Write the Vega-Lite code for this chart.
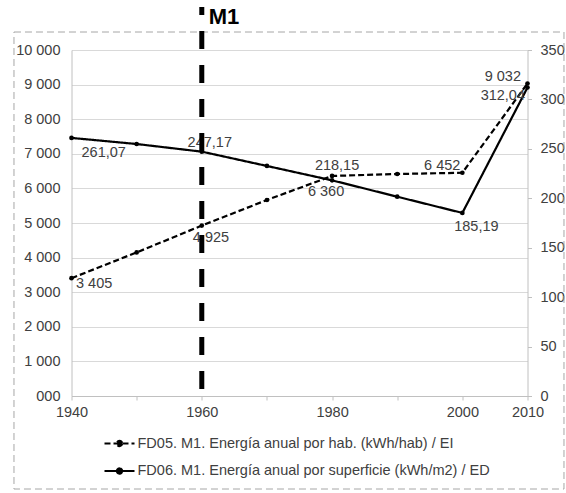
{
  "$schema": "https://vega.github.io/schema/vega-lite/v6.json",
  "width": 456,
  "height": 346,
  "autosize": {"type": "none"},
  "padding": {"left": 71.5, "top": 50, "right": 38.5, "bottom": 97},
  "background": "white",
  "config": {
    "view": {"stroke": null},
    "font": "Liberation Sans",
    "text": {"font": "Liberation Sans", "fontSize": 14.5, "color": "#404040", "baseline": "middle"},
    "axis": {"labelFont": "Liberation Sans", "labelFontSize": 14.5, "labelColor": "#404040", "title": null, "domainColor": "#c0c0c0", "tickColor": "#c0c0c0", "gridColor": "#d9d9d9", "labelFlush": false, "labelOverlap": false}
  },
  "datasets": {
    "s": [
      {"year": 1940, "series": "FD05. M1. Energía anual por hab. (kWh/hab) / EI", "value": 3405, "label": "3 405"},
      {"year": 1950, "series": "FD05. M1. Energía anual por hab. (kWh/hab) / EI", "value": 4150, "label": ""},
      {"year": 1960, "series": "FD05. M1. Energía anual por hab. (kWh/hab) / EI", "value": 4925, "label": "4 925"},
      {"year": 1970, "series": "FD05. M1. Energía anual por hab. (kWh/hab) / EI", "value": 5665, "label": ""},
      {"year": 1980, "series": "FD05. M1. Energía anual por hab. (kWh/hab) / EI", "value": 6360, "label": "6 360"},
      {"year": 1990, "series": "FD05. M1. Energía anual por hab. (kWh/hab) / EI", "value": 6416, "label": ""},
      {"year": 2000, "series": "FD05. M1. Energía anual por hab. (kWh/hab) / EI", "value": 6452, "label": "6 452"},
      {"year": 2010, "series": "FD05. M1. Energía anual por hab. (kWh/hab) / EI", "value": 9032, "label": "9 032"},
      {"year": 1940, "series": "FD06. M1. Energía anual por superficie (kWh/m2) / ED", "value": 261.07, "label": "261,07"},
      {"year": 1950, "series": "FD06. M1. Energía anual por superficie (kWh/m2) / ED", "value": 254.9, "label": ""},
      {"year": 1960, "series": "FD06. M1. Energía anual por superficie (kWh/m2) / ED", "value": 247.17, "label": "247,17"},
      {"year": 1970, "series": "FD06. M1. Energía anual por superficie (kWh/m2) / ED", "value": 232.7, "label": ""},
      {"year": 1980, "series": "FD06. M1. Energía anual por superficie (kWh/m2) / ED", "value": 218.15, "label": "218,15"},
      {"year": 1990, "series": "FD06. M1. Energía anual por superficie (kWh/m2) / ED", "value": 201.6, "label": ""},
      {"year": 2000, "series": "FD06. M1. Energía anual por superficie (kWh/m2) / ED", "value": 185.19, "label": "185,19"},
      {"year": 2010, "series": "FD06. M1. Energía anual por superficie (kWh/m2) / ED", "value": 312.04, "label": "312,04"}
    ]
  },
  "data": {"name": "s"},
  "resolve": {"scale": {"y": "independent"}},
  "layer": [
    {
      "data": {"values": [{"frame": "border"}]},
      "mark": {"type": "rect", "fillOpacity": 0, "stroke": "#a6a6a6", "strokeWidth": 1, "strokeDash": [7, 4], "clip": false},
      "encoding": {
        "x": {"datum": 1931.17, "type": "quantitative", "scale": {"domain": [1940, 2010], "nice": false, "zero": false},
          "axis": {"values": [1940, 1950, 1960, 1970, 1980, 1990, 2000, 2010], "labelExpr": "datum.value % 20 == 0 || datum.value == 2010 ? datum.value + '' : ''", "grid": false, "ticks": true, "tickSize": 4, "labelPadding": 5, "domain": true}},
        "x2": {"datum": 2015.6},
        "y": {"datum": 10520, "type": "quantitative", "scale": {"domain": [0, 10000], "nice": false}, "axis": null},
        "y2": {"datum": -2688}
      }
    },
    {
      "transform": [{"filter": "datum.series === 'FD05. M1. Energía anual por hab. (kWh/hab) / EI'"}],
      "mark": {"type": "line", "color": "black", "strokeWidth": 2.2},
      "encoding": {
        "x": {"field": "year", "type": "quantitative", "scale": {"domain": [1940, 2010], "nice": false, "zero": false},
          "axis": {"values": [1940, 1950, 1960, 1970, 1980, 1990, 2000, 2010], "labelExpr": "datum.value % 20 == 0 || datum.value == 2010 ? datum.value + '' : ''", "grid": false, "ticks": true, "tickSize": 4, "labelPadding": 5, "domain": true}},
        "y": {"field": "value", "type": "quantitative", "scale": {"domain": [0, 10000], "nice": false},
          "axis": {"orient": "left", "values": [0, 1000, 2000, 3000, 4000, 5000, 6000, 7000, 8000, 9000, 10000], "labelExpr": "datum.value == 0 ? '000' : replace(format(datum.value, ','), ',', ' ')", "grid": true, "ticks": false, "labelPadding": 11.5, "domain": true}},
        "strokeDash": {"field": "series", "type": "nominal", "scale": {"range": [[6, 3], [1, 0]]},
          "legend": {"orient": "none", "legendX": 31.5, "legendY": 377, "direction": "vertical", "title": null, "symbolType": "M-1,0H1M0.17,0A0.17,0.17,0,1,1,-0.17,0A0.17,0.17,0,1,1,0.17,0Z", "symbolSize": 900, "symbolStrokeWidth": 2.2, "symbolStrokeColor": "black", "symbolFillColor": "black", "labelFont": "Liberation Sans", "labelFontSize": 14.5, "labelColor": "#404040", "labelOffset": 1.5, "rowPadding": 3.5, "labelLimit": 500}}
      }
    },
    {
      "transform": [{"filter": "datum.series === 'FD05. M1. Energía anual por hab. (kWh/hab) / EI'"}],
      "mark": {"type": "point", "filled": true, "color": "black", "size": 22, "opacity": 1},
      "encoding": {
        "x": {"field": "year", "type": "quantitative", "scale": {"domain": [1940, 2010], "nice": false, "zero": false},
          "axis": {"values": [1940, 1950, 1960, 1970, 1980, 1990, 2000, 2010], "labelExpr": "datum.value % 20 == 0 || datum.value == 2010 ? datum.value + '' : ''", "grid": false, "ticks": true, "tickSize": 4, "labelPadding": 5, "domain": true}},
        "y": {"field": "value", "type": "quantitative", "scale": {"domain": [0, 10000], "nice": false}, "axis": null}
      }
    },
    {
      "transform": [{"filter": "datum.series === 'FD05. M1. Energía anual por hab. (kWh/hab) / EI' && datum.year == 1940"}],
      "mark": {"type": "text", "align": "left", "dx": 4.5, "dy": 6},
      "encoding": {
        "x": {"field": "year", "type": "quantitative", "scale": {"domain": [1940, 2010], "nice": false, "zero": false},
          "axis": {"values": [1940, 1950, 1960, 1970, 1980, 1990, 2000, 2010], "labelExpr": "datum.value % 20 == 0 || datum.value == 2010 ? datum.value + '' : ''", "grid": false, "ticks": true, "tickSize": 4, "labelPadding": 5, "domain": true}},
        "y": {"field": "value", "type": "quantitative", "scale": {"domain": [0, 10000], "nice": false}, "axis": null},
        "text": {"field": "label"}
      }
    },
    {
      "transform": [{"filter": "datum.series === 'FD05. M1. Energía anual por hab. (kWh/hab) / EI' && datum.year == 1960"}],
      "mark": {"type": "text", "align": "left", "dx": -9, "dy": 12},
      "encoding": {
        "x": {"field": "year", "type": "quantitative", "scale": {"domain": [1940, 2010], "nice": false, "zero": false},
          "axis": {"values": [1940, 1950, 1960, 1970, 1980, 1990, 2000, 2010], "labelExpr": "datum.value % 20 == 0 || datum.value == 2010 ? datum.value + '' : ''", "grid": false, "ticks": true, "tickSize": 4, "labelPadding": 5, "domain": true}},
        "y": {"field": "value", "type": "quantitative", "scale": {"domain": [0, 10000], "nice": false}, "axis": null},
        "text": {"field": "label"}
      }
    },
    {
      "transform": [{"filter": "datum.series === 'FD05. M1. Energía anual por hab. (kWh/hab) / EI' && datum.year == 1980"}],
      "mark": {"type": "text", "align": "center", "dx": -6, "dy": 16},
      "encoding": {
        "x": {"field": "year", "type": "quantitative", "scale": {"domain": [1940, 2010], "nice": false, "zero": false},
          "axis": {"values": [1940, 1950, 1960, 1970, 1980, 1990, 2000, 2010], "labelExpr": "datum.value % 20 == 0 || datum.value == 2010 ? datum.value + '' : ''", "grid": false, "ticks": true, "tickSize": 4, "labelPadding": 5, "domain": true}},
        "y": {"field": "value", "type": "quantitative", "scale": {"domain": [0, 10000], "nice": false}, "axis": null},
        "text": {"field": "label"}
      }
    },
    {
      "transform": [{"filter": "datum.series === 'FD05. M1. Energía anual por hab. (kWh/hab) / EI' && datum.year == 2000"}],
      "mark": {"type": "text", "align": "right", "dx": -2, "dy": -7},
      "encoding": {
        "x": {"field": "year", "type": "quantitative", "scale": {"domain": [1940, 2010], "nice": false, "zero": false},
          "axis": {"values": [1940, 1950, 1960, 1970, 1980, 1990, 2000, 2010], "labelExpr": "datum.value % 20 == 0 || datum.value == 2010 ? datum.value + '' : ''", "grid": false, "ticks": true, "tickSize": 4, "labelPadding": 5, "domain": true}},
        "y": {"field": "value", "type": "quantitative", "scale": {"domain": [0, 10000], "nice": false}, "axis": null},
        "text": {"field": "label"}
      }
    },
    {
      "transform": [{"filter": "datum.series === 'FD05. M1. Energía anual por hab. (kWh/hab) / EI' && datum.year == 2010"}],
      "mark": {"type": "text", "align": "right", "dx": -6.5, "dy": -6},
      "encoding": {
        "x": {"field": "year", "type": "quantitative", "scale": {"domain": [1940, 2010], "nice": false, "zero": false},
          "axis": {"values": [1940, 1950, 1960, 1970, 1980, 1990, 2000, 2010], "labelExpr": "datum.value % 20 == 0 || datum.value == 2010 ? datum.value + '' : ''", "grid": false, "ticks": true, "tickSize": 4, "labelPadding": 5, "domain": true}},
        "y": {"field": "value", "type": "quantitative", "scale": {"domain": [0, 10000], "nice": false}, "axis": null},
        "text": {"field": "label"}
      }
    },
    {
      "transform": [{"filter": "datum.series === 'FD06. M1. Energía anual por superficie (kWh/m2) / ED'"}],
      "mark": {"type": "line", "color": "black", "strokeWidth": 2.2},
      "encoding": {
        "x": {"field": "year", "type": "quantitative", "scale": {"domain": [1940, 2010], "nice": false, "zero": false},
          "axis": {"values": [1940, 1950, 1960, 1970, 1980, 1990, 2000, 2010], "labelExpr": "datum.value % 20 == 0 || datum.value == 2010 ? datum.value + '' : ''", "grid": false, "ticks": true, "tickSize": 4, "labelPadding": 5, "domain": true}},
        "y": {"field": "value", "type": "quantitative", "scale": {"domain": [0, 350], "nice": false},
          "axis": {"orient": "right", "values": [0, 50, 100, 150, 200, 250, 300, 350], "grid": false, "ticks": true, "tickSize": 4, "labelPadding": 8.5, "domain": true}},
        "strokeDash": {"field": "series", "type": "nominal"}
      }
    },
    {
      "transform": [{"filter": "datum.series === 'FD06. M1. Energía anual por superficie (kWh/m2) / ED'"}],
      "mark": {"type": "point", "filled": true, "color": "black", "size": 22, "opacity": 1},
      "encoding": {
        "x": {"field": "year", "type": "quantitative", "scale": {"domain": [1940, 2010], "nice": false, "zero": false},
          "axis": {"values": [1940, 1950, 1960, 1970, 1980, 1990, 2000, 2010], "labelExpr": "datum.value % 20 == 0 || datum.value == 2010 ? datum.value + '' : ''", "grid": false, "ticks": true, "tickSize": 4, "labelPadding": 5, "domain": true}},
        "y": {"field": "value", "type": "quantitative", "scale": {"domain": [0, 350], "nice": false}, "axis": null}
      }
    },
    {
      "transform": [{"filter": "datum.series === 'FD06. M1. Energía anual por superficie (kWh/m2) / ED' && datum.year == 1940"}],
      "mark": {"type": "text", "align": "left", "dx": 10, "dy": 15},
      "encoding": {
        "x": {"field": "year", "type": "quantitative", "scale": {"domain": [1940, 2010], "nice": false, "zero": false},
          "axis": {"values": [1940, 1950, 1960, 1970, 1980, 1990, 2000, 2010], "labelExpr": "datum.value % 20 == 0 || datum.value == 2010 ? datum.value + '' : ''", "grid": false, "ticks": true, "tickSize": 4, "labelPadding": 5, "domain": true}},
        "y": {"field": "value", "type": "quantitative", "scale": {"domain": [0, 350], "nice": false}, "axis": null},
        "text": {"field": "label"}
      }
    },
    {
      "transform": [{"filter": "datum.series === 'FD06. M1. Energía anual por superficie (kWh/m2) / ED' && datum.year == 1960"}],
      "mark": {"type": "text", "align": "center", "dx": 8, "dy": -9},
      "encoding": {
        "x": {"field": "year", "type": "quantitative", "scale": {"domain": [1940, 2010], "nice": false, "zero": false},
          "axis": {"values": [1940, 1950, 1960, 1970, 1980, 1990, 2000, 2010], "labelExpr": "datum.value % 20 == 0 || datum.value == 2010 ? datum.value + '' : ''", "grid": false, "ticks": true, "tickSize": 4, "labelPadding": 5, "domain": true}},
        "y": {"field": "value", "type": "quantitative", "scale": {"domain": [0, 350], "nice": false}, "axis": null},
        "text": {"field": "label"}
      }
    },
    {
      "transform": [{"filter": "datum.series === 'FD06. M1. Energía anual por superficie (kWh/m2) / ED' && datum.year == 1980"}],
      "mark": {"type": "text", "align": "center", "dx": 5, "dy": -14},
      "encoding": {
        "x": {"field": "year", "type": "quantitative", "scale": {"domain": [1940, 2010], "nice": false, "zero": false},
          "axis": {"values": [1940, 1950, 1960, 1970, 1980, 1990, 2000, 2010], "labelExpr": "datum.value % 20 == 0 || datum.value == 2010 ? datum.value + '' : ''", "grid": false, "ticks": true, "tickSize": 4, "labelPadding": 5, "domain": true}},
        "y": {"field": "value", "type": "quantitative", "scale": {"domain": [0, 350], "nice": false}, "axis": null},
        "text": {"field": "label"}
      }
    },
    {
      "transform": [{"filter": "datum.series === 'FD06. M1. Energía anual por superficie (kWh/m2) / ED' && datum.year == 2000"}],
      "mark": {"type": "text", "align": "center", "dx": 14, "dy": 14},
      "encoding": {
        "x": {"field": "year", "type": "quantitative", "scale": {"domain": [1940, 2010], "nice": false, "zero": false},
          "axis": {"values": [1940, 1950, 1960, 1970, 1980, 1990, 2000, 2010], "labelExpr": "datum.value % 20 == 0 || datum.value == 2010 ? datum.value + '' : ''", "grid": false, "ticks": true, "tickSize": 4, "labelPadding": 5, "domain": true}},
        "y": {"field": "value", "type": "quantitative", "scale": {"domain": [0, 350], "nice": false}, "axis": null},
        "text": {"field": "label"}
      }
    },
    {
      "transform": [{"filter": "datum.series === 'FD06. M1. Energía anual por superficie (kWh/m2) / ED' && datum.year == 2010"}],
      "mark": {"type": "text", "align": "right", "dx": -2.5, "dy": 8.5},
      "encoding": {
        "x": {"field": "year", "type": "quantitative", "scale": {"domain": [1940, 2010], "nice": false, "zero": false},
          "axis": {"values": [1940, 1950, 1960, 1970, 1980, 1990, 2000, 2010], "labelExpr": "datum.value % 20 == 0 || datum.value == 2010 ? datum.value + '' : ''", "grid": false, "ticks": true, "tickSize": 4, "labelPadding": 5, "domain": true}},
        "y": {"field": "value", "type": "quantitative", "scale": {"domain": [0, 350], "nice": false}, "axis": null},
        "text": {"field": "label"}
      }
    },
    {
      "data": {"values": [{"marker": "M1"}]},
      "mark": {"type": "rule", "color": "black", "strokeWidth": 5, "strokeDash": [18, 16], "strokeDashOffset": 10, "clip": false},
      "encoding": {
        "x": {"datum": 1960, "type": "quantitative", "scale": {"domain": [1940, 2010], "nice": false, "zero": false},
          "axis": {"values": [1940, 1950, 1960, 1970, 1980, 1990, 2000, 2010], "labelExpr": "datum.value % 20 == 0 || datum.value == 2010 ? datum.value + '' : ''", "grid": false, "ticks": true, "tickSize": 4, "labelPadding": 5, "domain": true}},
        "y": {"datum": 11243, "type": "quantitative", "scale": {"domain": [0, 10000], "nice": false}, "axis": null},
        "y2": {"datum": 0}
      }
    },
    {
      "data": {"values": [{"marker": "M1"}]},
      "mark": {"type": "text", "align": "left", "dx": 7, "fontSize": 22, "fontWeight": "bold", "color": "black", "clip": false},
      "encoding": {
        "x": {"datum": 1960, "type": "quantitative", "scale": {"domain": [1940, 2010], "nice": false, "zero": false},
          "axis": {"values": [1940, 1950, 1960, 1970, 1980, 1990, 2000, 2010], "labelExpr": "datum.value % 20 == 0 || datum.value == 2010 ? datum.value + '' : ''", "grid": false, "ticks": true, "tickSize": 4, "labelPadding": 5, "domain": true}},
        "y": {"datum": 10954, "type": "quantitative", "scale": {"domain": [0, 10000], "nice": false}, "axis": null},
        "text": {"field": "marker"}
      }
    }
  ]
}
